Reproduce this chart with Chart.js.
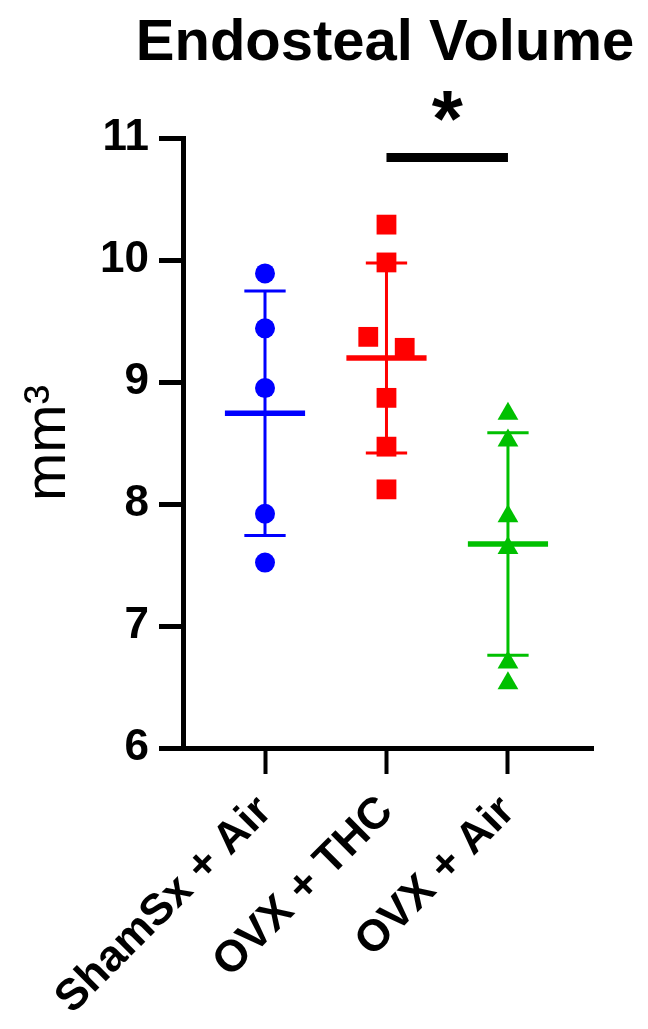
<!DOCTYPE html>
<html lang="en">
<head>
    <meta charset="UTF-8">
    <title>Endosteal Volume</title>
    <style>
        body {
            margin: 0;
            background: white;
        }
        #wrap {
            width: 648px;
            height: 1029px;
            position: relative;
        }
    </style>
    <script src="https://cdn.jsdelivr.net/npm/chart.js"></script>
</head>
<body>

<div id="wrap"><canvas id="volumeChart"></canvas></div>

<script>
    // Groups and individual values (mm^3)
    const categories = ['ShamSx + Air', 'OVX + THC', 'OVX + Air'];
    const shamAir = [9.89, 9.44, 8.95, 7.92, 7.52];
    const ovxThc = [10.29, 9.98, 9.37, 9.28, 8.87, 8.47, 8.12];
    const ovxAir = [8.74, 8.52, 7.90, 7.64, 6.70, 6.53];
    const yTicks = [6, 7, 8, 9, 10, 11];

    // significance bracket between OVX + THC and OVX + Air
    const sigGroups = [2, 3];
    const sigLevel = 10.84;
    const sigLabel = '*';

    const colors = ['#0000ff', '#ff0000', '#00c000'];
    const shapes = ['circle', 'rect', 'triangle'];
    const radii = [10, 14, 12];
    // a couple of OVX + THC points are nudged sideways in the original
    const spread = [[], [0, 0, -0.15, 0.15, 0, 0, 0], []];

    function mean(a) {
        return a.reduce((s, v) => s + v, 0) / a.length;
    }
    function sd(a) {
        const m = mean(a);
        return Math.sqrt(a.reduce((s, v) => s + (v - m) * (v - m), 0) / (a.length - 1));
    }

    const groups = [shamAir, ovxThc, ovxAir];
    const datasets = [];

    groups.forEach((vals, i) => {
        const x = i + 1;
        const m = mean(vals);
        const s = sd(vals);
        // SD whiskers with caps, gaps broken with null
        datasets.push({
            type: 'line',
            data: [
                {x: x - 0.17, y: m + s}, {x: x + 0.17, y: m + s}, {x: x, y: null},
                {x: x, y: m + s}, {x: x, y: m - s}, {x: x, y: null},
                {x: x - 0.17, y: m - s}, {x: x + 0.17, y: m - s}
            ],
            borderColor: colors[i],
            borderWidth: 3,
            pointRadius: 0,
            spanGaps: false
        });
        // mean line
        datasets.push({
            type: 'line',
            data: [{x: x - 0.33, y: m}, {x: x + 0.33, y: m}],
            borderColor: colors[i],
            borderWidth: 5.5,
            pointRadius: 0
        });
        // individual animals
        datasets.push({
            type: 'scatter',
            data: vals.map((v, j) => ({x: x + (spread[i][j] || 0), y: v})),
            pointStyle: shapes[i],
            pointRadius: radii[i],
            pointHoverRadius: radii[i],
            backgroundColor: colors[i],
            borderColor: colors[i],
            borderWidth: 0
        });
    });

    // significance bar
    datasets.push({
        type: 'line',
        data: [{x: sigGroups[0], y: sigLevel}, {x: sigGroups[1], y: sigLevel}],
        borderColor: 'black',
        borderWidth: 9,
        borderCapStyle: 'butt',
        pointRadius: 0
    });

    // title and asterisk drawn on top
    const extraText = {
        id: 'extraText',
        afterDraw(chart) {
            const ctx = chart.ctx;
            const xs = chart.scales.x;
            const ys = chart.scales.y;
            ctx.save();
            ctx.fillStyle = 'black';
            ctx.textAlign = 'center';
            ctx.textBaseline = 'alphabetic';
            ctx.font = 'bold 58px "Liberation Sans", Arial, sans-serif';
            ctx.fillText('Endosteal Volume', 385, 60);
            ctx.font = 'bold 80px "Liberation Sans", Arial, sans-serif';
            const sx = xs.getPixelForValue((sigGroups[0] + sigGroups[1]) / 2);
            ctx.fillText(sigLabel, sx, ys.getPixelForValue(sigLevel) - 12);
            ctx.restore();
        }
    };

    const ctx = document.getElementById('volumeChart').getContext('2d');
    new Chart(ctx, {
        data: { datasets: datasets },
        options: {
            responsive: true,
            maintainAspectRatio: false,
            animation: false,
            layout: {
                padding: { top: 138, right: 55, left: 0, bottom: 0 }
            },
            plugins: {
                legend: { display: false },
                tooltip: { enabled: false }
            },
            scales: {
                x: {
                    type: 'linear',
                    min: 0.325,
                    max: 3.7,
                    afterBuildTicks: (scale) => {
                        scale.ticks = categories.map((c, i) => ({ value: i + 1 }));
                    },
                    afterFit: (scale) => { scale.height = 281; },
                    border: { display: true, color: 'black', width: 5 },
                    grid: {
                        drawOnChartArea: false,
                        drawTicks: true,
                        tickLength: 26,
                        tickWidth: 4,
                        color: 'black'
                    },
                    ticks: {
                        autoSkip: false,
                        minRotation: 45,
                        maxRotation: 45,
                        padding: 12,
                        color: 'black',
                        font: { family: '"Liberation Sans", Arial, sans-serif', size: 44, weight: 'bold' },
                        callback: (v) => categories[Math.round(v) - 1]
                    }
                },
                y: {
                    type: 'linear',
                    min: yTicks[0],
                    max: yTicks[yTicks.length - 1],
                    afterBuildTicks: (scale) => {
                        scale.ticks = yTicks.map(v => ({ value: v }));
                    },
                    afterFit: (scale) => { scale.width = 183; },
                    border: { display: true, color: 'black', width: 5 },
                    grid: {
                        drawOnChartArea: false,
                        drawTicks: true,
                        tickLength: 24,
                        tickWidth: 5,
                        color: 'black'
                    },
                    ticks: {
                        padding: 10,
                        color: 'black',
                        font: { family: '"Liberation Sans", Arial, sans-serif', size: 44, weight: 'bold' }
                    },
                    title: {
                        display: true,
                        text: 'mm³',
                        color: 'black',
                        padding: { top: 20, bottom: 0 },
                        font: { family: '"Liberation Sans", Arial, sans-serif', size: 58, weight: 'normal', lineHeight: 1 }
                    }
                }
            }
        },
        plugins: [extraText]
    });
</script>

</body>
</html>
